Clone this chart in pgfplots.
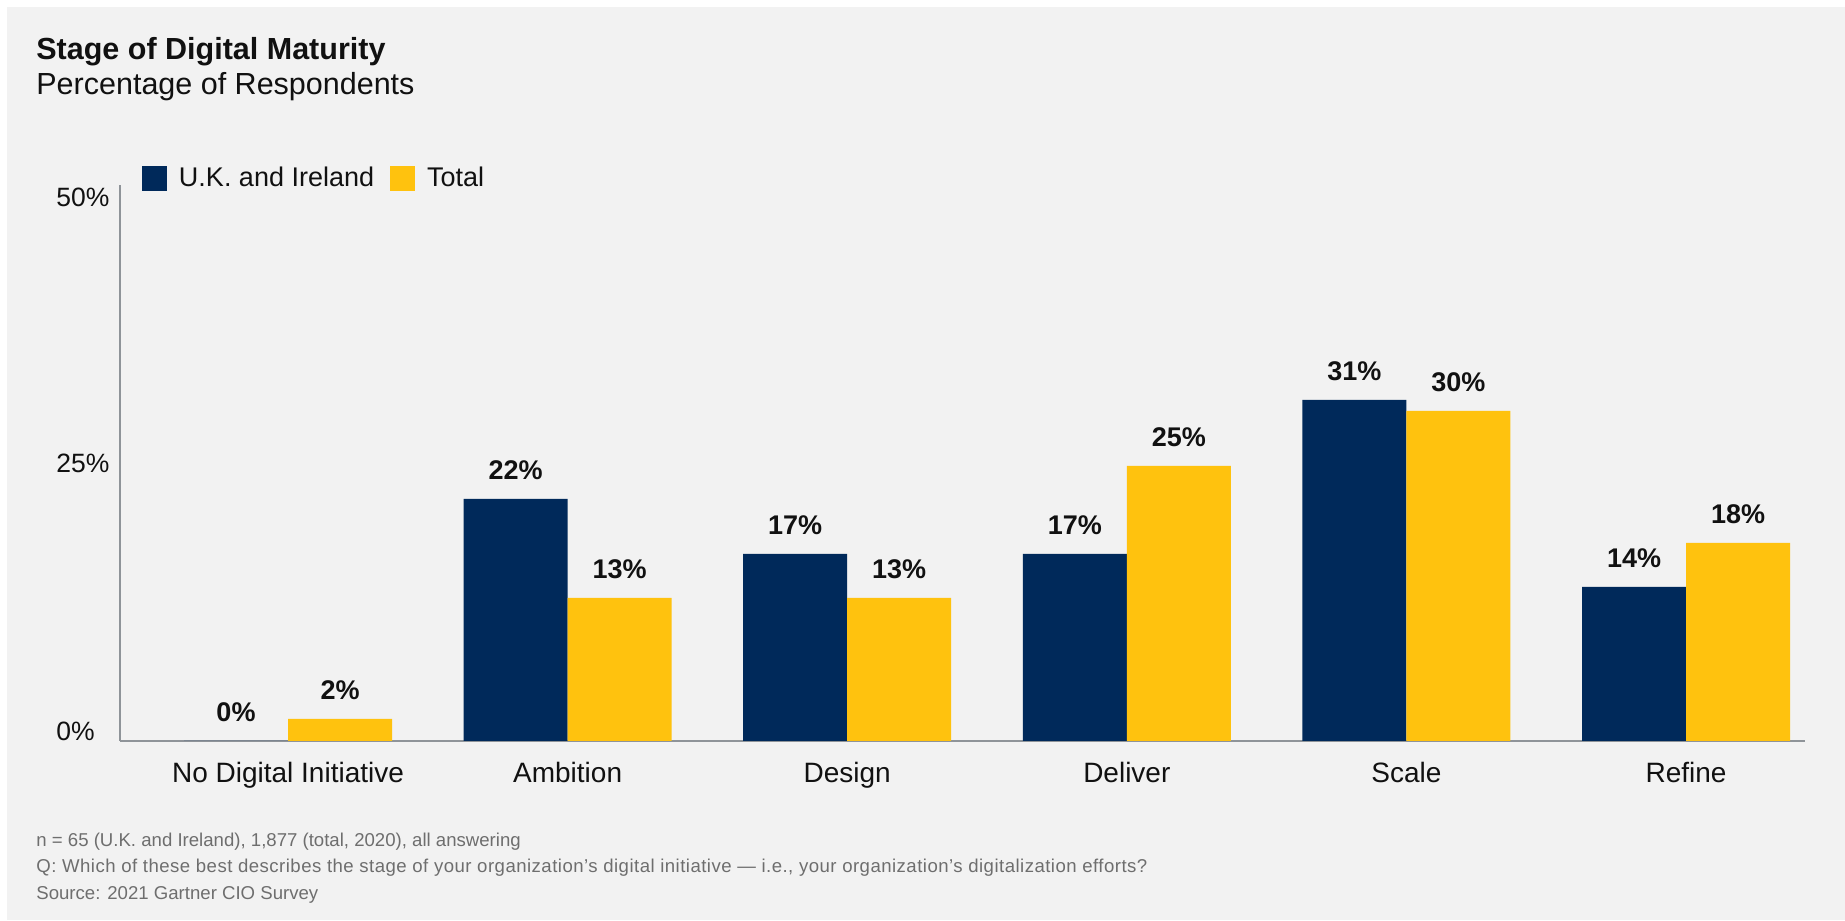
\documentclass[border=0pt]{standalone}
\usepackage{pgfplots}
\pgfplotsset{compat=1.18}
\usepackage{fontspec}
\setmainfont{Liberation Sans}
\definecolor{navy}{HTML}{00295A}
\definecolor{gold}{HTML}{FFC20E}
\definecolor{panel}{HTML}{F2F2F2}
\definecolor{axisgray}{HTML}{8F9499}
\definecolor{notegray}{HTML}{6E6E6E}
\definecolor{ink}{HTML}{111111}
\pgfplotsset{sqlegend/.style={legend image code/.code={\fill[##1] (0pt,-6.25pt) rectangle (12.5pt,6.25pt); \path (18.5pt,0pt);}}}
\begin{document}
\begin{tikzpicture}
\path[use as bounding box, fill=white] (0,0) rectangle (922.5pt,460pt);
\fill[panel] (3.5pt,0) rectangle (922.5pt,456.5pt);
\node[anchor=base west, inner sep=0pt, text=ink, font=\fontsize{15.25pt}{18pt}\selectfont\bfseries] at (18pt,430pt) {Stage of Digital Maturity};
\node[anchor=base west, inner sep=0pt, text=ink, font=\fontsize{15.25pt}{18pt}\selectfont] at (18pt,412.5pt) {Percentage of Respondents};
\begin{axis}[
  at={(60pt,89.5pt)}, anchor=south west,
  width=842.5pt, height=278pt, scale only axis,
  xmin=-0.6009, xmax=5.4256, ymin=0, ymax=50.545,
  ybar=0pt, bar width=0.372,
  axis x line=bottom, axis y line=left,
  axis line style={-, draw=axisgray, line width=0.7pt},
  major tick length=0pt, tick style={draw=none},
  /pgf/number format/assume math mode=true,
  xtick={0,1,2,3,4,5},
  xticklabels={No Digital Initiative, Ambition, Design, Deliver, Scale, Refine},
  xticklabel style={anchor=base, inner sep=0pt, yshift=-20.5pt, text=ink, font=\fontsize{14pt}{16pt}\selectfont},
  ytick={0,25,50},
  yticklabels={0\%, \raisebox{-3.5pt}{25\%}, \raisebox{-8pt}{50\%}},
  yticklabel style={anchor=base west, inner sep=0pt, xshift=-32pt, text=ink, font=\fontsize{13.25pt}{16pt}\selectfont},
  nodes near coords={\pgfmathprintnumber[assume math mode=true]{\pgfplotspointmeta}\%},
  every node near coord/.append style={anchor=south, inner sep=0pt, yshift=9.5pt, text=ink, font=\fontsize{13.5pt}{16pt}\selectfont\bfseries},
  legend columns=-1,
  legend style={at={(0,1.0117)}, anchor=west, xshift=11pt, draw=none, fill=none, inner sep=0pt, outer sep=0pt,
    text=ink, font=\fontsize{13.5pt}{16pt}\selectfont,
    nodes={inner sep=0pt, text depth=0.15em},
    /tikz/every even column/.append style={column sep=8pt}},
]
\addplot[fill=navy, draw=none, bar shift=-0.186, sqlegend]
  coordinates {(0,0) (1,22) (2,17) (3,17) (4,31) (5,14)};
\addlegendentry{U.K. and Ireland}
\addplot[fill=gold, draw=none, bar shift=0.186, sqlegend]
  coordinates {(0,2) (1,13) (2,13) (3,25) (4,30) (5,18)};
\addlegendentry{Total}
\end{axis}
\node[anchor=base west, inner sep=0pt, text=notegray, font=\fontsize{9.3pt}{11pt}\selectfont] at (18pt,36.5pt) {n = 65 (U.K. and Ireland), 1,877 (total, 2020), all answering};
\node[anchor=base west, inner sep=0pt, text=notegray, font=\fontsize{9.3pt}{11pt}\selectfont\addfontfeatures{LetterSpace=2.5}] at (18pt,23.5pt) {Q: Which of these best describes the stage of your organization’s digital initiative — i.e., your organization’s digitalization efforts?};
\node[anchor=base west, inner sep=0pt, text=notegray, font=\fontsize{9.3pt}{11pt}\selectfont] at (18pt,10.5pt) {Source: 2021 Gartner CIO Survey};
\end{tikzpicture}
\end{document}
